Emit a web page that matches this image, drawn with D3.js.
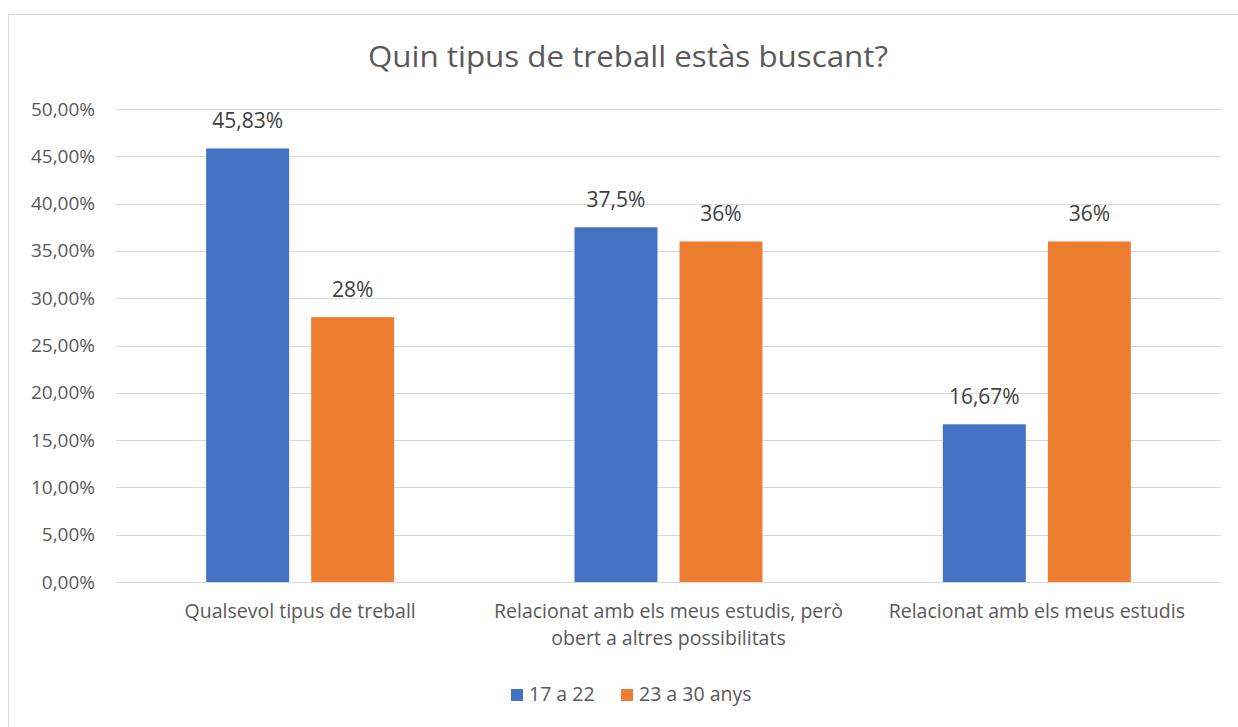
<!DOCTYPE html>
<html><head><meta charset="utf-8">
<script src="https://cdn.jsdelivr.net/npm/d3@7"></script>
<style>body{margin:0;background:#fff}svg{display:block}text{font-family:"Open Sans","Noto Sans",sans-serif}</style>
</head><body>
<svg id="c" width="1238" height="727"></svg>
<script>
const categories = ["Qualsevol tipus de treball", "Relacionat amb els meus estudis, però obert a altres possibilitats", "Relacionat amb els meus estudis"];
const categoryLines = [["Qualsevol tipus de treball"], ["Relacionat amb els meus estudis, però", "obert a altres possibilitats"], ["Relacionat amb els meus estudis"]];
const seriesNames = ["17 a 22", "23 a 30 anys"];
const values17a22 = [45.83, 37.5, 16.67];
const values23a30 = [28, 36, 36];
const labels17a22 = ["45,83%", "37,5%", "16,67%"];
const labels23a30 = ["28%", "36%", "36%"];
const yTicks = [0, 5, 10, 15, 20, 25, 30, 35, 40, 45, 50];
const yTickLabels = ["0,00%", "5,00%", "10,00%", "15,00%", "20,00%", "25,00%", "30,00%", "35,00%", "40,00%", "45,00%", "50,00%"];
const colors = ["#4472C4", "#ED7D31"];

const svg = d3.select("#c");
svg.append("rect").attr("x", 8.5).attr("y", 14.5).attr("width", 1250).attr("height", 730)
  .attr("fill", "#fff").attr("stroke", "#d9d9d9").attr("stroke-width", 1);

const pLeft = 116, pRight = 1221, pTop = 109, pBottom = 582;
const y = d3.scaleLinear().domain([0, 50]).range([pBottom, pTop]);
const x0 = d3.scaleBand().domain(categories).range([pLeft, pRight]).padding(0);
const gw = x0.bandwidth();
const x1 = d3.scaleBand().domain(seriesNames).range([gw / 2 - 94, gw / 2 + 94]).paddingInner(0.21).paddingOuter(0);

svg.append("text").attr("x", 628).attr("y", 67).attr("text-anchor", "middle")
  .attr("font-size", 30).attr("fill", "#595959").attr("textLength", 520).attr("lengthAdjust", "spacingAndGlyphs")
  .text("Quin tipus de treball estàs buscant?");

svg.append("g").selectAll("line").data(yTicks).join("line")
  .attr("x1", pLeft).attr("x2", pRight)
  .attr("y1", d => Math.round(y(d)) + 0.5).attr("y2", d => Math.round(y(d)) + 0.5)
  .attr("stroke", "#d9d9d9").attr("stroke-width", 1);

const yAxis = d3.axisLeft(y).tickValues(yTicks).tickFormat((d, i) => yTickLabels[i]).tickSize(0).tickPadding(0);
const ya = svg.append("g").attr("transform", `translate(95,0)`).call(yAxis);
ya.select(".domain").remove();
ya.selectAll("text").attr("font-size", 19).attr("fill", "#595959").attr("font-family", '"Open Sans","Noto Sans",sans-serif');

const series = [values17a22, values23a30];
const labs = [labels17a22, labels23a30];
seriesNames.forEach((s, si) => {
  const g = svg.append("g");
  g.selectAll("rect").data(categories).join("rect")
    .attr("x", c => x0(c) + x1(s)).attr("width", x1.bandwidth())
    .attr("y", (c, i) => y(series[si][i])).attr("height", (c, i) => y(0) - y(series[si][i]))
    .attr("fill", colors[si]);
  g.selectAll("text").data(categories).join("text")
    .attr("x", c => x0(c) + x1(s) + x1.bandwidth() / 2)
    .attr("y", (c, i) => y(series[si][i]) - 20)
    .attr("text-anchor", "middle").attr("font-size", 21).attr("fill", "#404040")
    .text((c, i) => labs[si][i]);
});

categories.forEach((c, i) => {
  const t = svg.append("text").attr("x", x0(c) + gw / 2).attr("y", 618)
    .attr("text-anchor", "middle").attr("font-size", 19.5).attr("fill", "#595959");
  categoryLines[i].forEach((l, li) => t.append("tspan").attr("x", x0(c) + gw / 2).attr("dy", li ? 27 : 0).text(l));
});

const legX = [511, 621];
seriesNames.forEach((s, i) => {
  svg.append("rect").attr("x", legX[i]).attr("y", 689).attr("width", 12).attr("height", 12).attr("fill", colors[i]);
  svg.append("text").attr("x", legX[i] + 18).attr("y", 701).attr("font-size", 19.5).attr("fill", "#595959").text(s);
});
</script>
</body></html>
